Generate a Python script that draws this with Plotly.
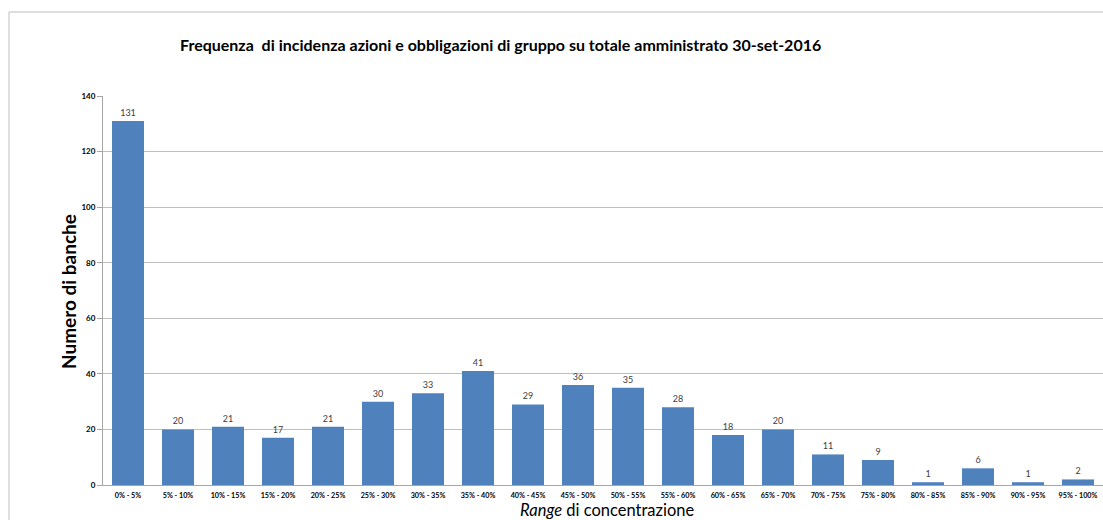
import plotly.graph_objects as go

categories = ["0% - 5%", "5% - 10%", "10% - 15%", "15% - 20%", "20% - 25%", "25% - 30%",
              "30% - 35%", "35% - 40%", "40% - 45%", "45% - 50%", "50% - 55%", "55% - 60%",
              "60% - 65%", "65% - 70%", "70% - 75%", "75% - 80%", "80% - 85%", "85% - 90%",
              "90% - 95%", "95% - 100%"]
values = [131, 20, 21, 17, 21, 30, 33, 41, 29, 36, 35, 28, 18, 20, 11, 9, 1, 6, 1, 2]
y_ticks = [0, 20, 40, 60, 80, 100, 120, 140]

FONT = "Lato"
fig = go.Figure()
fig.add_trace(go.Bar(
    x=list(range(len(categories))), y=values,
    marker=dict(color="#4f81bd", line=dict(width=0)),
    text=[str(v) for v in values], textposition="outside",
    textfont=dict(family=FONT, size=9, color="#404040"),
    cliponaxis=False,
))

L, T, B = 103, 96, 35
W, H = 1103, 520
pw, ph = W - L, H - T - B

fig.update_layout(
    width=W, height=H,
    margin=dict(l=L, r=0, t=T, b=B, pad=0),
    paper_bgcolor="white", plot_bgcolor="white",
    bargap=0.36, showlegend=False,
    font=dict(family=FONT, color="#000000"),
    xaxis=dict(
        range=[-0.5, 19.5], tickmode="array",
        tickvals=list(range(len(categories))),
        ticktext=["<b>%s</b>" % c for c in categories],
        tickfont=dict(family=FONT, size=7.2, color="#000000"),
        showgrid=False, zeroline=False, showline=True, linecolor="#a6a6a6", linewidth=1,
        ticks="", ticklabelstandoff=3,
    ),
    yaxis=dict(
        range=[0, 140], tickmode="array", tickvals=y_ticks,
        ticktext=["<b>%d</b>" % v for v in y_ticks],
        tickfont=dict(family=FONT, size=8, color="#000000"),
        showgrid=True, gridcolor="#bfbfbf", gridwidth=1,
        zeroline=False, showline=True, linecolor="#a6a6a6", linewidth=1,
        ticks="outside", ticklen=5, tickcolor="#a6a6a6",
    ),
    shapes=[dict(type="rect", xref="paper", yref="paper",
                 x0=(9 - L) / pw, x1=1.2, y0=-0.5, y1=(H - B - 12) / ph,
                 line=dict(color="#bfbfbf", width=1), layer="below")],
    annotations=[
        dict(text="<b>Frequenza  di incidenza azioni e obbligazioni di gruppo su totale amministrato 30-set-2016</b>",
             xref="paper", yref="paper", x=(500 - L) / pw, y=(H - B - 45) / ph,
             showarrow=False, font=dict(family=FONT, size=16, color="#000000"),
             xanchor="center", yanchor="middle"),
        dict(text="<b>Numero di banche</b>", textangle=-90,
             xref="paper", yref="paper", x=(68 - L) / pw, y=(H - B - 292) / ph,
             showarrow=False, font=dict(family=FONT, size=19, color="#000000"),
             xanchor="center", yanchor="middle"),
        dict(text="<i>Range</i> di concentrazione",
             xref="paper", yref="paper", x=(607 - L) / pw, y=(H - B - 510) / ph,
             showarrow=False, font=dict(family=FONT, size=16.5, color="#000000"),
             xanchor="center", yanchor="middle"),
    ],
)

fig.write_html("out.html")
